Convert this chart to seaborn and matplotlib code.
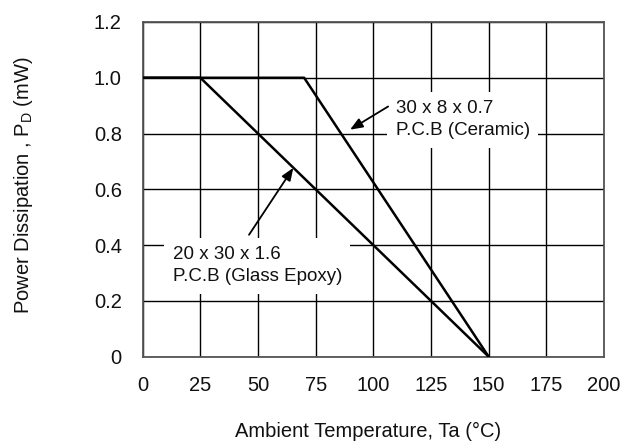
import matplotlib
matplotlib.use("Agg")
import matplotlib.pyplot as plt
import seaborn as sns
import pandas as pd

# Data
glass_x = [0, 25, 150]
glass_y = [1.0, 1.0, 0.0]
ceramic_x = [0, 70, 150]
ceramic_y = [1.0, 1.0, 0.0]
x_ticks = [0, 25, 50, 75, 100, 125, 150, 175, 200]
y_ticks = [0, 0.2, 0.4, 0.6, 0.8, 1.0, 1.2]
y_tick_labels = ["0", "0.2", "0.4", "0.6", "0.8", "1.0", "1.2"]
ceramic_label = "30 x 8 x 0.7\nP.C.B (Ceramic)"
glass_label = "20 x 30 x 1.6\nP.C.B (Glass Epoxy)"

sns.set_style("white")
plt.rcParams['font.family'] = ['Liberation Sans', 'DejaVu Sans']
plt.rcParams['mathtext.fontset'] = 'custom'
plt.rcParams['mathtext.rm'] = 'Liberation Sans'

fig = plt.figure(figsize=(6.28, 4.44), dpi=100)
ax = fig.add_axes([0.2272, 0.1966, 0.7346, 0.7539])

df = pd.concat([
    pd.DataFrame({"x": glass_x, "y": glass_y, "s": "glass"}),
    pd.DataFrame({"x": ceramic_x, "y": ceramic_y, "s": "ceramic"}),
])
sns.lineplot(data=df, x="x", y="y", units="s", estimator=None, color="black",
             linewidth=1.8, ax=ax, legend=False, sort=False, zorder=3)

ax.set_xlim(0, 200)
ax.set_ylim(0, 1.2)
ax.set_xticks(x_ticks)
ax.set_yticks(y_ticks)
ax.set_yticklabels(y_tick_labels)
ax.grid(True, color="black", linewidth=1.0)
ax.set_axisbelow(True)
for sp in ax.spines.values():
    sp.set_color("#555555")
    sp.set_linewidth(1.3)
    sp.set_visible(True)
ax.tick_params(axis="both", length=0, labelsize=14.5, colors="#111111")
ax.tick_params(axis="y", pad=15)
ax.tick_params(axis="x", pad=14)

ax.set_xlabel("Ambient Temperature, Ta (°C)", fontsize=14.5, color="#111111", va="center")
ax.xaxis.set_label_coords(0.489, -0.224)
ax.set_ylabel(r"Power Dissipation , P$_\mathregular{D}$ (mW)", fontsize=14.5, color="#111111",
              va="center")
ax.yaxis.set_label_coords(-0.258, 0.513)

arrow_kw = dict(arrowstyle="-|>,head_length=0.75,head_width=0.3", color="black",
                lw=1.3, shrinkA=0, shrinkB=0)
box_kw = dict(boxstyle="square,pad=0.45", fc="white", ec="none")

ax.text(109.7, 0.849, ceramic_label, fontsize=13.5, ha="left", va="center",
        linespacing=1.37, color="#111111", bbox=box_kw, zorder=4)
ax.text(13.0, 0.326, glass_label, fontsize=13.5, ha="left", va="center",
        linespacing=1.37, color="#111111", bbox=box_kw, zorder=4)
ax.annotate("", xy=(89.9, 0.814), xytext=(106.4, 0.897), arrowprops=arrow_kw, zorder=5)
ax.annotate("", xy=(65.3, 0.677), xytext=(46.1, 0.437), arrowprops=arrow_kw, zorder=5)

fig.savefig("out.png", dpi=100)
